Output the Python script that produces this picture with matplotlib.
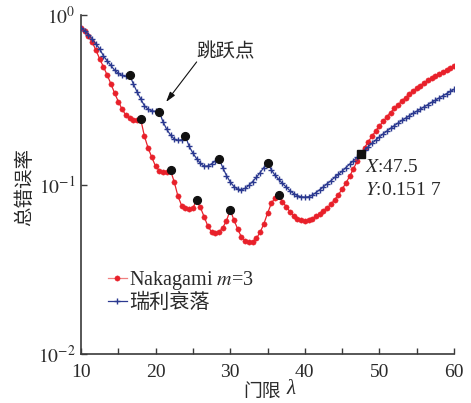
import matplotlib
matplotlib.use("Agg")
import matplotlib.pyplot as plt
from matplotlib.ticker import FixedLocator, FixedFormatter, NullLocator, MultipleLocator

plt.rcParams['font.family'] = ['Liberation Serif', 'Noto Sans CJK SC', 'DejaVu Sans']
plt.rcParams['mathtext.fontset'] = 'stix'

# ---- data ----
threshold = [10.0 + 0.5 * i for i in range(101)]  # 门限 λ, 10 .. 60 step 0.5

nakagami_m3 = [
    0.841, 0.803, 0.753, 0.692, 0.621, 0.552, 0.4955, 0.4436, 0.3936, 0.3467,
    0.309, 0.2786, 0.257, 0.2455, 0.2415, 0.241, 0.243, 0.1928, 0.164, 0.1445,
    0.128, 0.1208, 0.1183, 0.119, 0.1211, 0.1035, 0.0851, 0.0750, 0.0724, 0.0718,
    0.0724, 0.0813, 0.0733, 0.0646, 0.0569, 0.0525, 0.0515, 0.0525, 0.0556, 0.0612,
    0.0708, 0.0617, 0.0547, 0.0490, 0.0467, 0.0456, 0.0461, 0.0481, 0.0522, 0.0585,
    0.0676, 0.0773, 0.0836, 0.0873, 0.0794, 0.0741, 0.0692, 0.0653, 0.0628, 0.0615,
    0.0611, 0.0615, 0.0628, 0.0649, 0.0673, 0.0698, 0.0728, 0.0767, 0.0813, 0.0871,
    0.0940, 0.1019, 0.1117, 0.1233, 0.1368, 0.1517, 0.1648, 0.1786, 0.1928, 0.2070,
    0.2218, 0.2360, 0.2512, 0.2661, 0.2812, 0.2958, 0.3112, 0.3258, 0.3404, 0.3548,
    0.3698, 0.3837, 0.3981, 0.4111, 0.4246, 0.4385, 0.4508, 0.4634, 0.4753, 0.4875,
    0.4989,
]

rayleigh = [
    0.841, 0.807, 0.767, 0.724, 0.676, 0.632, 0.575, 0.537, 0.5047, 0.473,
    0.4539, 0.4406, 0.4355, 0.4457, 0.3936, 0.3532, 0.3199, 0.2917, 0.278, 0.2723,
    0.270, 0.268, 0.2339, 0.2113, 0.1959, 0.1854, 0.182, 0.184, 0.1923, 0.1679,
    0.1531, 0.1419, 0.1334, 0.1282, 0.1288, 0.1324, 0.138, 0.142, 0.1259, 0.113,
    0.1035, 0.0973, 0.0940, 0.0931, 0.0951, 0.0989, 0.1042, 0.1102, 0.1175, 0.1259,
    0.1343, 0.1225, 0.1135, 0.1072, 0.1016, 0.0966, 0.0920, 0.0885, 0.0861, 0.0847,
    0.0843, 0.0847, 0.0867, 0.0897, 0.0933, 0.0970, 0.1012, 0.1054, 0.1102, 0.1148,
    0.1199, 0.1259, 0.1318, 0.1380, 0.1445, 0.1517, 0.1592, 0.1671, 0.1750, 0.1828,
    0.1910, 0.1991, 0.2070, 0.2148, 0.2228, 0.2307, 0.2388, 0.2466, 0.2547, 0.2630,
    0.2710, 0.2793, 0.2877, 0.2965, 0.3055, 0.3148, 0.3243, 0.3342, 0.3443, 0.3540,
    0.3648,
]

jump_x_nakagami = [18.0, 22.0, 25.5, 30.0, 36.5]
jump_x_rayleigh = [16.5, 20.5, 24.0, 28.5, 35.0]

cross_x = 47.5
cross_y = 0.1517

x_ticks = [10, 20, 30, 40, 50, 60]
y_ticks = [1e-2, 1e-1, 1e0]
y_tick_labels = ['$10^{-2}$', '$10^{-1}$', '$10^{0}$']

# ---- style ----
RED = '#e8202a'
BLUE = '#2b3990'
TXT = '#2a2a2a'
SPINE = '#3a3a3a'

fig = plt.figure(figsize=(4.71, 4.03), dpi=100)
ax = fig.add_axes([0.172, 0.1216, 0.792, 0.841])

ax.plot(threshold, nakagami_m3, '-', color=RED, lw=0.9, marker='o', ms=3.8,
        mfc=RED, mec=RED, mew=0.3, label='Nakagami $m$=3', zorder=3)
ax.plot(threshold, rayleigh, '-', color=BLUE, lw=0.9, marker='+', ms=4.2,
        mec=BLUE, mew=1.0, label='瑞利衰落', zorder=3)

def lookup(xs, ys, targets):
    return [ys[xs.index(t)] for t in targets]

ax.plot(jump_x_nakagami, lookup(threshold, nakagami_m3, jump_x_nakagami), 'o',
        color='#111111', ms=5.6, zorder=5)
ax.plot(jump_x_rayleigh, lookup(threshold, rayleigh, jump_x_rayleigh), 'o',
        color='#111111', ms=5.6, zorder=5)
ax.plot([cross_x], [cross_y], 's', color='#111111', ms=5.8, zorder=6)

ax.set_yscale('log')
ax.set_xlim(10, 60)
ax.set_ylim(1e-2, 1e0)

ax.xaxis.set_major_locator(FixedLocator(x_ticks))
ax.xaxis.set_minor_locator(MultipleLocator(5))
ax.yaxis.set_major_locator(FixedLocator(y_ticks))
ax.yaxis.set_major_formatter(FixedFormatter(y_tick_labels))
ax.yaxis.set_minor_locator(NullLocator())

for s in ['top', 'right']:
    ax.spines[s].set_visible(False)
for s in ['left', 'bottom']:
    ax.spines[s].set_color(SPINE)
    ax.spines[s].set_linewidth(1.2)

ax.tick_params(axis='both', which='both', direction='in', length=4, width=1.0,
               color=SPINE, labelcolor=TXT, labelsize=14)
ax.tick_params(axis='x', which='major', pad=7)
ax.tick_params(axis='y', which='major', pad=4)

# x label: Chinese part + italic lambda (kept out of mathtext so CJK glyphs render)
fig.text(262 / 471, 1 - 391 / 403, '门限', fontsize=13.5, color=TXT,
         ha='center', va='center', family=['Noto Sans CJK SC', 'DejaVu Sans'])
fig.text(291 / 471, 1 - 390 / 403, 'λ', fontsize=15, color=TXT, style='italic',
         ha='center', va='center', family=['Liberation Serif', 'DejaVu Serif'])
# y label
fig.text(25 / 471, 1 - 187 / 403, '总错误率', fontsize=14, color=TXT, rotation=90,
         ha='center', va='center', family=['Noto Sans CJK SC', 'DejaVu Sans'])

# annotation "跳跃点"
ax.annotate('', xy=(21.4, 0.307), xytext=(25.5, 0.529),
            arrowprops=dict(arrowstyle='-|>,head_length=0.6,head_width=0.18',
                            color='#111111', lw=0.8, shrinkA=0, shrinkB=0))
ax.text(25.5, 0.608, '跳跃点', fontsize=14, color=TXT, ha='left', va='center')

ax.text(48.07, 0.126, '$X$:47.5', fontsize=14, color=TXT, ha='left', va='center')
ax.text(48.07, 0.092, '$Y$:0.151 7', fontsize=14, color=TXT, ha='left', va='center')

leg = ax.legend(loc='center left', bbox_to_anchor=(0.072, 0.186), frameon=False,
                fontsize=14.5, handlelength=0.95, handletextpad=0.1,
                labelspacing=0.05, borderpad=0, borderaxespad=0, numpoints=1)
for t in leg.get_texts():
    t.set_color(TXT)
leg.get_lines()[0].set_color('#f08080')
leg.get_lines()[0].set_markerfacecolor(RED)
leg.get_lines()[0].set_markeredgecolor(RED)

fig.savefig('out.png', dpi=100)
